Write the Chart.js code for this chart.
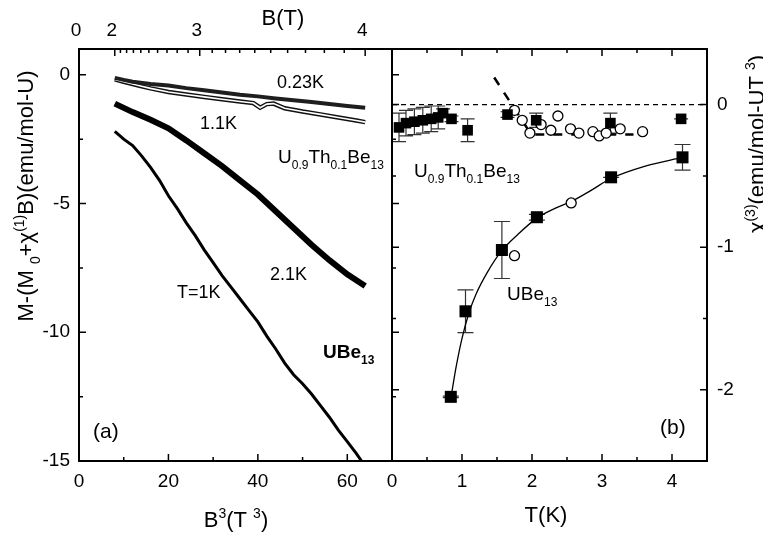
<!DOCTYPE html>
<html>
<head>
<meta charset="utf-8">
<script src="https://cdn.jsdelivr.net/npm/chart.js@4.4.0/dist/chart.umd.min.js"></script>
<style>
  body { margin: 0; background: #fff; }
  #wrap { position: relative; width: 763px; height: 533px; overflow: hidden; background: #fff; }
  canvas { position: absolute; top: 0; }
</style>
</head>
<body>
<div id="wrap">
  <canvas id="leftPanel" width="400" height="533" style="left:0"></canvas>
  <canvas id="rightPanel" width="383" height="533" style="left:380px"></canvas>
</div>
<script>
// (a) M-(M0+chi1 B) against B^3
const b3_023K = [8, 10, 12, 16, 20, 24, 28, 32, 36, 40, 44, 48, 52, 56, 60, 64];
const m_023K = [-0.12, -0.20, -0.27, -0.36, -0.42, -0.52, -0.60, -0.69, -0.78, -0.84, -0.92, -0.99, -1.06, -1.14, -1.21, -1.28];
const b3_11K = [8, 10, 12, 14, 16, 20, 24, 28, 32, 36, 39, 40.5, 42, 43.5, 46, 50, 54, 58, 62, 64];
const m_11K = [-0.18, -0.27, -0.36, -0.45, -0.53, -0.67, -0.77, -0.86, -0.95, -1.04, -1.10, -1.28, -1.14, -1.12, -1.30, -1.43, -1.54, -1.66, -1.78, -1.84];
const b3_21K = [8, 12, 16, 20, 24, 28, 32, 36, 40, 44, 48, 52, 56, 60, 64];
const m_21K = [-1.12, -1.45, -1.75, -2.08, -2.55, -3.05, -3.55, -4.1, -4.65, -5.3, -5.95, -6.6, -7.2, -7.75, -8.2];
const b3_1K = [8, 10, 12, 14, 16, 18, 20, 22, 24, 26, 28, 30, 32, 34, 36, 38, 40, 42, 44, 46, 48, 50, 52, 54, 56, 58, 60, 62, 63.2];
const m_1K = [-2.2, -2.5, -2.75, -3.15, -3.6, -4.1, -4.7, -5.2, -5.75, -6.25, -6.8, -7.3, -7.8, -8.25, -8.7, -9.15, -9.6, -10.15, -10.65, -11.2, -11.65, -12.0, -12.4, -12.85, -13.3, -13.8, -14.25, -14.7, -15.0];

// (b) chi3 against T
const tUBe13 = [0.84, 1.05, 1.57, 2.07, 3.13, 4.15];
const chiUBe13 = [-2.05, -1.45, -1.02, -0.79, -0.51, -0.37];
const errUBe13 = [0.005, 0.15, 0.20, 0.02, 0, 0.09];
const tUBe13Open = [1.75, 2.56];
const chiUBe13Open = [-1.06, -0.69];
const tUBe13Fit = [0.85, 0.92, 1.0, 1.1, 1.2, 1.37, 1.56, 1.80, 2.06, 2.32, 2.56, 2.85, 3.12, 3.63, 4.15];
const chiUBe13Fit = [-2.03, -1.83, -1.64, -1.46, -1.33, -1.17, -1.03, -0.91, -0.80, -0.73, -0.68, -0.60, -0.52, -0.43, -0.37];
const tTh = [0.10, 0.20, 0.32, 0.44, 0.56, 0.66, 0.73, 0.85, 1.08, 1.65, 2.06, 3.12, 4.13];
const chiTh = [-0.16, -0.13, -0.12, -0.11, -0.10, -0.09, -0.06, -0.10, -0.18, -0.07, -0.11, -0.13, -0.10];
const errTh = [0.10, 0.09, 0.09, 0.09, 0.09, 0.08, 0.03, 0.02, 0.08, 0.02, 0.05, 0.07, 0];
const tThOpen = [1.75, 1.86, 1.97, 2.13, 2.27, 2.37, 2.55, 2.67, 2.87, 2.96, 3.06, 3.26, 3.58];
const chiThOpen = [-0.04, -0.11, -0.20, -0.14, -0.18, -0.08, -0.17, -0.20, -0.19, -0.22, -0.20, -0.17, -0.19];
const tThFit = [1.46, 1.99, 3.45];
const chiThFit = [0.19, -0.21, -0.21];
const tZero = [0, 4.5];
const chiZero = [0, 0];

// ticks
const b3Ticks = [0, 20, 40, 60];
const b3Minor = [10, 30, 50];
const mTicks = [0, -5, -10, -15];
const mMinor = [-2.5, -7.5, -12.5];
const bTicks = [0, 2, 3, 4];
const bMajor = [2, 3, 4];
const tTicks = [0, 1, 2, 3, 4];
const tMinor = [0.5, 1.5, 2.5, 3.5];
const chiTicks = [0, -1, -2];
const chiMinor = [-0.5, -1.5];

const FONT = '"Liberation Sans", Arial, sans-serif';
const RIGHT_OFFSET = 380;

function pts(xs, ys) {
  return xs.map((v, i) => ({ x: v, y: ys[i] }));
}

function drawRich(ctx, parts, x, y, size, align, weight) {
  const fontFor = (mode) => (weight || 'normal') + ' ' + (mode ? Math.round(size * 0.62) : size) + 'px ' + FONT;
  let total = 0;
  parts.forEach(([t, mode]) => { ctx.font = fontFor(mode); total += ctx.measureText(t).width; });
  let cx = align === 'center' ? x - total / 2 : align === 'right' ? x - total : x;
  ctx.textAlign = 'left';
  ctx.textBaseline = 'alphabetic';
  parts.forEach(([t, mode]) => {
    ctx.font = fontFor(mode);
    const dy = mode === 'sub' ? size * 0.3 : mode === 'sup' ? -size * 0.42 : 0;
    ctx.fillText(t, cx, y + dy);
    cx += ctx.measureText(t).width;
  });
}

function drawRotated(ctx, parts, bx, cy, size) {
  ctx.save();
  ctx.translate(bx, cy);
  ctx.rotate(-Math.PI / 2);
  drawRich(ctx, parts, 0, 0, size, 'center');
  ctx.restore();
}

function hTicks(ctx, scale, vals, yPix, len) {
  vals.forEach(v => {
    const p = scale.getPixelForValue(v);
    ctx.moveTo(p, yPix);
    ctx.lineTo(p, yPix + len);
  });
}

function vTicks(ctx, scale, vals, xPix, len) {
  vals.forEach(v => {
    const p = scale.getPixelForValue(v);
    ctx.moveTo(xPix, p);
    ctx.lineTo(xPix + len, p);
  });
}

const leftAxes = {
  id: 'leftAxes',
  afterDraw(chart) {
    const { ctx, chartArea: a, scales: { x, y } } = chart;
    ctx.save();
    ctx.strokeStyle = '#000';
    ctx.fillStyle = '#000';
    ctx.lineWidth = 2;
    ctx.strokeRect(a.left, a.top, a.right - a.left, a.bottom - a.top);

    ctx.lineWidth = 1.5;
    ctx.beginPath();
    hTicks(ctx, x, b3Ticks, a.bottom, -7);
    hTicks(ctx, x, b3Minor, a.bottom, -4);
    vTicks(ctx, y, mTicks, a.left, 7);
    vTicks(ctx, y, mMinor, a.left, 4);
    vTicks(ctx, y, mTicks, a.right, 7);
    vTicks(ctx, y, mMinor, a.right, 4);
    hTicks(ctx, x, bMajor.map(b => b ** 3), a.top, 7);
    const bMinorVals = [];
    for (let k = 21; k < 40; k++) { if (k !== 30) bMinorVals.push(Math.pow(k / 10, 3)); }
    hTicks(ctx, x, bMinorVals, a.top, 4);
    ctx.stroke();

    // tick labels
    ctx.font = '19px ' + FONT;
    ctx.textAlign = 'center';
    ctx.textBaseline = 'alphabetic';
    b3Ticks.forEach(v => ctx.fillText(String(v), x.getPixelForValue(v), 487));
    bTicks.forEach(v => ctx.fillText(String(v), x.getPixelForValue(v ** 3) - 3, 36));
    ctx.textAlign = 'right';
    ctx.textBaseline = 'middle';
    mTicks.forEach(v => ctx.fillText(String(v), 70, y.getPixelForValue(v)));

    // titles
    drawRich(ctx, [['B(T)']], 283, 25, 22, 'center');
    drawRich(ctx, [['B'], ['3', 'sup'], ['(T '], ['3', 'sup'], [')']], 236, 527, 22, 'center');
    drawRotated(ctx, [['M-(M '], ['0', 'sub'], ['+\u03C7'], ['(1)', 'sup'], ['B)(emu/mol-U)']], 33, 196, 22);

    // annotations
    drawRich(ctx, [['0.23K']], 277, 88, 18, 'left');
    drawRich(ctx, [['1.1K']], 200, 129, 18, 'left');
    drawRich(ctx, [['U'], ['0.9', 'sub'], ['Th'], ['0.1', 'sub'], ['Be'], ['13', 'sub']], 278, 163, 19, 'left');
    drawRich(ctx, [['2.1K']], 270, 280, 18, 'left');
    drawRich(ctx, [['T=1K']], 177, 298, 18, 'left');
    drawRich(ctx, [['UBe'], ['13', 'sub']], 323, 358, 19, 'left', 'bold');
    drawRich(ctx, [['(a)']], 93, 438, 21, 'left');
    ctx.restore();
  }
};

const rightAxes = {
  id: 'rightAxes',
  beforeDatasetsDraw(chart) {
    const { ctx, scales: { x, y } } = chart;
    ctx.save();
    ctx.strokeStyle = '#333';
    ctx.lineWidth = 1.2;
    ctx.beginPath();
    const bars = (ts, cs, es, cap) => {
      ts.forEach((t, i) => {
        const px = x.getPixelForValue(t);
        const hi = y.getPixelForValue(cs[i] + es[i]);
        const lo = y.getPixelForValue(cs[i] - es[i]);
        ctx.moveTo(px, hi); ctx.lineTo(px, lo);
        ctx.moveTo(px - cap, hi); ctx.lineTo(px + cap, hi);
        ctx.moveTo(px - cap, lo); ctx.lineTo(px + cap, lo);
      });
    };
    bars(tTh, chiTh, errTh, 7);
    bars(tUBe13, chiUBe13, errUBe13, 8);
    ctx.stroke();
    ctx.restore();
  },
  afterDraw(chart) {
    const { ctx, chartArea: a, scales: { x, y } } = chart;
    ctx.save();
    ctx.strokeStyle = '#000';
    ctx.fillStyle = '#000';
    ctx.lineWidth = 2;
    ctx.strokeRect(a.left, a.top, a.right - a.left, a.bottom - a.top);

    ctx.lineWidth = 1.5;
    ctx.beginPath();
    hTicks(ctx, x, tTicks, a.bottom, -7);
    hTicks(ctx, x, tMinor, a.bottom, -4);
    hTicks(ctx, x, tTicks, a.top, 7);
    hTicks(ctx, x, tMinor, a.top, 4);
    vTicks(ctx, y, chiTicks, a.right, -7);
    vTicks(ctx, y, chiMinor, a.right, -4);
    vTicks(ctx, y, chiTicks, a.left, 7);
    vTicks(ctx, y, chiMinor, a.left, 4);
    ctx.stroke();

    ctx.font = '19px ' + FONT;
    ctx.textAlign = 'center';
    ctx.textBaseline = 'alphabetic';
    tTicks.forEach(v => ctx.fillText(String(v), x.getPixelForValue(v), 487));
    ctx.textAlign = 'left';
    ctx.textBaseline = 'middle';
    chiTicks.forEach(v => ctx.fillText(String(v), 717 - RIGHT_OFFSET, y.getPixelForValue(v)));

    drawRich(ctx, [['T(K)']], 546 - RIGHT_OFFSET, 522, 22, 'center');
    drawRotated(ctx, [['\u03C7'], ['(3)', 'sup'], ['(emu/mol-UT '], ['3', 'sup'], [')']], 764 - RIGHT_OFFSET, 144, 22);

    drawRich(ctx, [['U'], ['0.9', 'sub'], ['Th'], ['0.1', 'sub'], ['Be'], ['13', 'sub']], 414 - RIGHT_OFFSET, 177, 19, 'left');
    drawRich(ctx, [['UBe'], ['13', 'sub']], 507 - RIGHT_OFFSET, 300, 19, 'left');
    drawRich(ctx, [['(b)']], 660 - RIGHT_OFFSET, 434, 21, 'left');
    ctx.restore();
  }
};

const common = {
  responsive: false,
  animation: false,
  devicePixelRatio: 1,
  plugins: { legend: { display: false }, tooltip: { enabled: false } },
  elements: { line: { tension: 0 } }
};

new Chart(document.getElementById('leftPanel'), {
  type: 'scatter',
  data: {
    datasets: [
      { data: pts(b3_023K, m_023K), showLine: true, borderColor: '#1e1e1e', borderWidth: 4, pointRadius: 0 },
      { data: pts(b3_11K, m_11K), showLine: true, borderColor: '#ffffff', borderWidth: 1.6, pointRadius: 0 },
      { data: pts(b3_11K, m_11K), showLine: true, borderColor: '#111', borderWidth: 4.5, pointRadius: 0 },
      { data: pts(b3_21K, m_21K), showLine: true, borderColor: '#000', borderWidth: 6, pointRadius: 0 },
      { data: pts(b3_1K, m_1K), showLine: true, borderColor: '#000', borderWidth: 3, pointRadius: 0 }
    ]
  },
  options: Object.assign({}, common, {
    layout: { padding: { left: 79, top: 49, right: 8, bottom: 72 } },
    scales: {
      x: { type: 'linear', min: 0, max: 70, display: false },
      y: { type: 'linear', min: -15, max: 1, display: false }
    }
  }),
  plugins: [leftAxes]
});

new Chart(document.getElementById('rightPanel'), {
  type: 'scatter',
  data: {
    datasets: [
      { data: pts(tUBe13, chiUBe13), pointStyle: 'rect', pointRadius: 8.5, backgroundColor: '#000', borderColor: '#000', borderWidth: 0 },
      { data: pts(tTh, chiTh), pointStyle: 'rect', pointRadius: 7.5, backgroundColor: '#000', borderColor: '#000', borderWidth: 0 },
      { data: pts(tUBe13Open, chiUBe13Open), pointStyle: 'circle', pointRadius: 5, backgroundColor: '#fff', borderColor: '#000', borderWidth: 1.3 },
      { data: pts(tThOpen, chiThOpen), pointStyle: 'circle', pointRadius: 5, backgroundColor: '#fff', borderColor: '#000', borderWidth: 1.3 },
      { data: pts(tUBe13Fit, chiUBe13Fit), showLine: true, cubicInterpolationMode: 'monotone', borderColor: '#000', borderWidth: 1.3, pointRadius: 0 },
      { data: pts(tThFit, chiThFit), showLine: true, borderColor: '#000', borderWidth: 2.5, borderDash: [9, 9], pointRadius: 0 },
      { data: pts(tZero, chiZero), showLine: true, borderColor: '#000', borderWidth: 1.2, borderDash: [5, 4], pointRadius: 0 }
    ]
  },
  options: Object.assign({}, common, {
    layout: { padding: { left: 12, top: 49, right: 56, bottom: 72 } },
    scales: {
      x: { type: 'linear', min: 0, max: 4.5, display: false },
      y: { type: 'linear', min: -2.5, max: 0.39, display: false }
    }
  }),
  plugins: [rightAxes]
});
</script>
</body>
</html>
